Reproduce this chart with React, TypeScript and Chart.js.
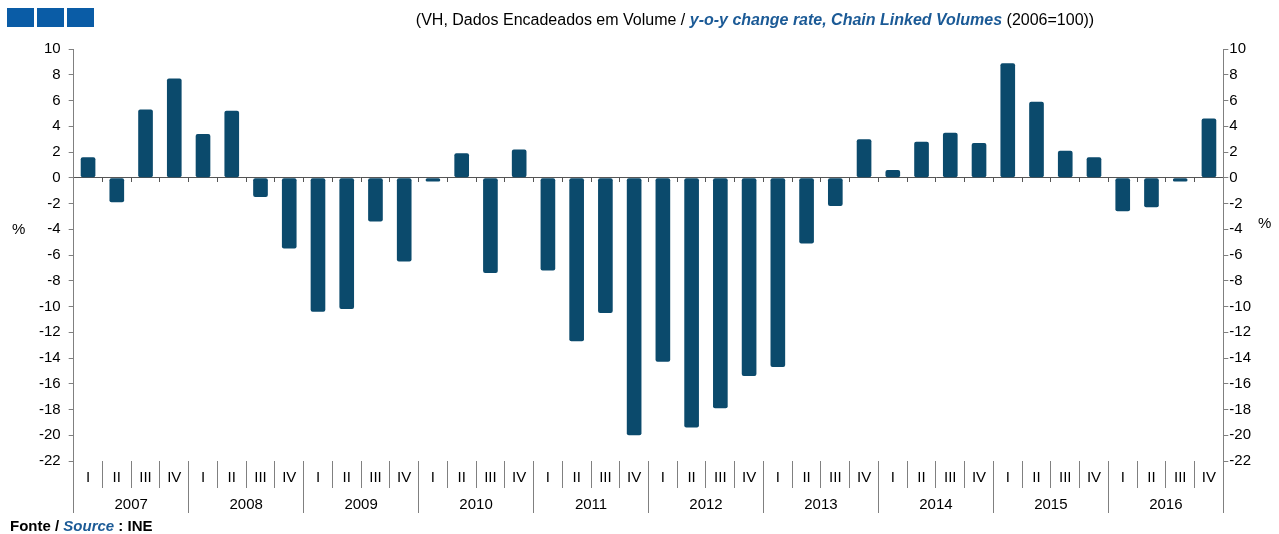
import React, { useEffect, useRef } from 'react';
import { Chart, registerables } from 'chart.js';

Chart.register(...registerables);

const yearLabels = ['2007', '2008', '2009', '2010', '2011', '2012', '2013', '2014', '2015', '2016'];
const quarterNames = ['I', 'II', 'III', 'IV'];
const quarterLabels = yearLabels.flatMap(() => quarterNames);

// Year-on-year change rate (%), chain linked volumes, quarterly 2007 Q1 – 2016 Q4
const growthRate = [
  1.6, -1.9, 5.3, 7.7,
  3.4, 5.2, -1.5, -5.5,
  -10.4, -10.2, -3.4, -6.5,
  -0.3, 1.9, -7.4, 2.2,
  -7.2, -12.7, -10.5, -20.0,
  -14.3, -19.4, -17.9, -15.4,
  -14.7, -5.1, -2.2, 3.0,
  0.6, 2.8, 3.5, 2.7,
  8.9, 5.9, 2.1, 1.6,
  -2.6, -2.3, -0.3, 4.6,
];

const yMin = -22;
const yMax = 10;
const yStep = 2;

const FONT = '"Liberation Sans", Arial, sans-serif';
const AXIS = '#808080';
const BAR = '#0b4a6c';
const BLUE = '#1b5a96';

export default function App() {
  const ref = useRef<HTMLCanvasElement>(null);

  useEffect(() => {
    const tickFont = { family: FONT, size: 15 };
    const chart = new Chart(ref.current!, {
      type: 'bar',
      data: {
        labels: quarterLabels,
        datasets: [
          {
            data: growthRate,
            backgroundColor: BAR,
            borderRadius: 2,
            borderSkipped: false,
            categoryPercentage: 1,
            barPercentage: 0.51,
            xAxisID: 'x',
            yAxisID: 'y',
          },
        ],
      },
      options: {
        responsive: false,
        animation: false,
        events: [],
        layout: { padding: { left: 31, right: 27, top: 49, bottom: 73 } },
        plugins: { legend: { display: false }, tooltip: { enabled: false }, title: { display: false } },
        scales: {
          x: {
            type: 'category',
            position: { y: yMin },
            offset: true,
            grid: { offset: true, drawOnChartArea: false, drawTicks: true, tickLength: 27, color: AXIS, lineWidth: 1 },
            border: { display: false },
            ticks: { font: tickFont, color: '#000', padding: -19, maxRotation: 0, autoSkip: false },
          },
          x2: {
            type: 'category',
            position: { y: yMin },
            labels: yearLabels,
            offset: true,
            grid: { offset: true, drawOnChartArea: false, drawTicks: true, tickLength: 52, color: AXIS, lineWidth: 1 },
            border: { display: false },
            ticks: { font: tickFont, color: '#000', padding: -17, maxRotation: 0, autoSkip: false },
          },
          x0: {
            type: 'category',
            position: { y: 0 },
            offset: true,
            grid: { offset: true, drawOnChartArea: false, drawTicks: true, tickLength: 4, color: '#555', lineWidth: 1 },
            border: { display: true, color: '#555', width: 1 },
            ticks: { display: false },
          },
          y: {
            type: 'linear',
            position: 'left',
            min: yMin,
            max: yMax,
            grid: { drawOnChartArea: false, drawTicks: true, tickLength: 5, color: AXIS },
            border: { display: true, color: AXIS },
            ticks: { stepSize: yStep, font: tickFont, color: '#000', padding: 8 },
          },
          y2: {
            type: 'linear',
            position: 'right',
            min: yMin,
            max: yMax,
            grid: { drawOnChartArea: false, drawTicks: true, tickLength: 5, color: AXIS },
            border: { display: true, color: AXIS },
            ticks: { stepSize: yStep, font: tickFont, color: '#000', padding: 1 },
          },
        },
      },
    } as any);
    return () => chart.destroy();
  }, []);

  const block = (left: number) => (
    <div style={{ position: 'absolute', left, top: 8, width: 27, height: 19, background: '#0a5ca6' }} />
  );

  return (
    <div style={{ position: 'fixed', left: 0, top: 0, width: 1279, height: 534, background: '#fff', fontFamily: FONT, color: '#000' }}>
      <canvas ref={ref} width={1279} height={534} style={{ position: 'absolute', left: 0, top: 0, display: 'block' }} />
      {block(7)}
      {block(37)}
      {block(67)}
      <div style={{ position: 'absolute', left: 755, top: 11, transform: 'translateX(-50%)', whiteSpace: 'nowrap', fontSize: 16, lineHeight: '18px' }}>
        (VH, Dados Encadeados em Volume / <span style={{ color: BLUE, fontWeight: 'bold', fontStyle: 'italic' }}>y-o-y change rate, Chain Linked Volumes</span> (2006=100))
      </div>
      <div style={{ position: 'absolute', left: 12, top: 220, fontSize: 15, lineHeight: '18px' }}>%</div>
      <div style={{ position: 'absolute', left: 1258, top: 214, fontSize: 15, lineHeight: '18px' }}>%</div>
      <div style={{ position: 'absolute', left: 10, top: 517, fontSize: 15, lineHeight: '17px', fontWeight: 'bold', whiteSpace: 'nowrap' }}>
        Fonte / <span style={{ color: BLUE, fontStyle: 'italic' }}>Source</span> : INE
      </div>
    </div>
  );
}
